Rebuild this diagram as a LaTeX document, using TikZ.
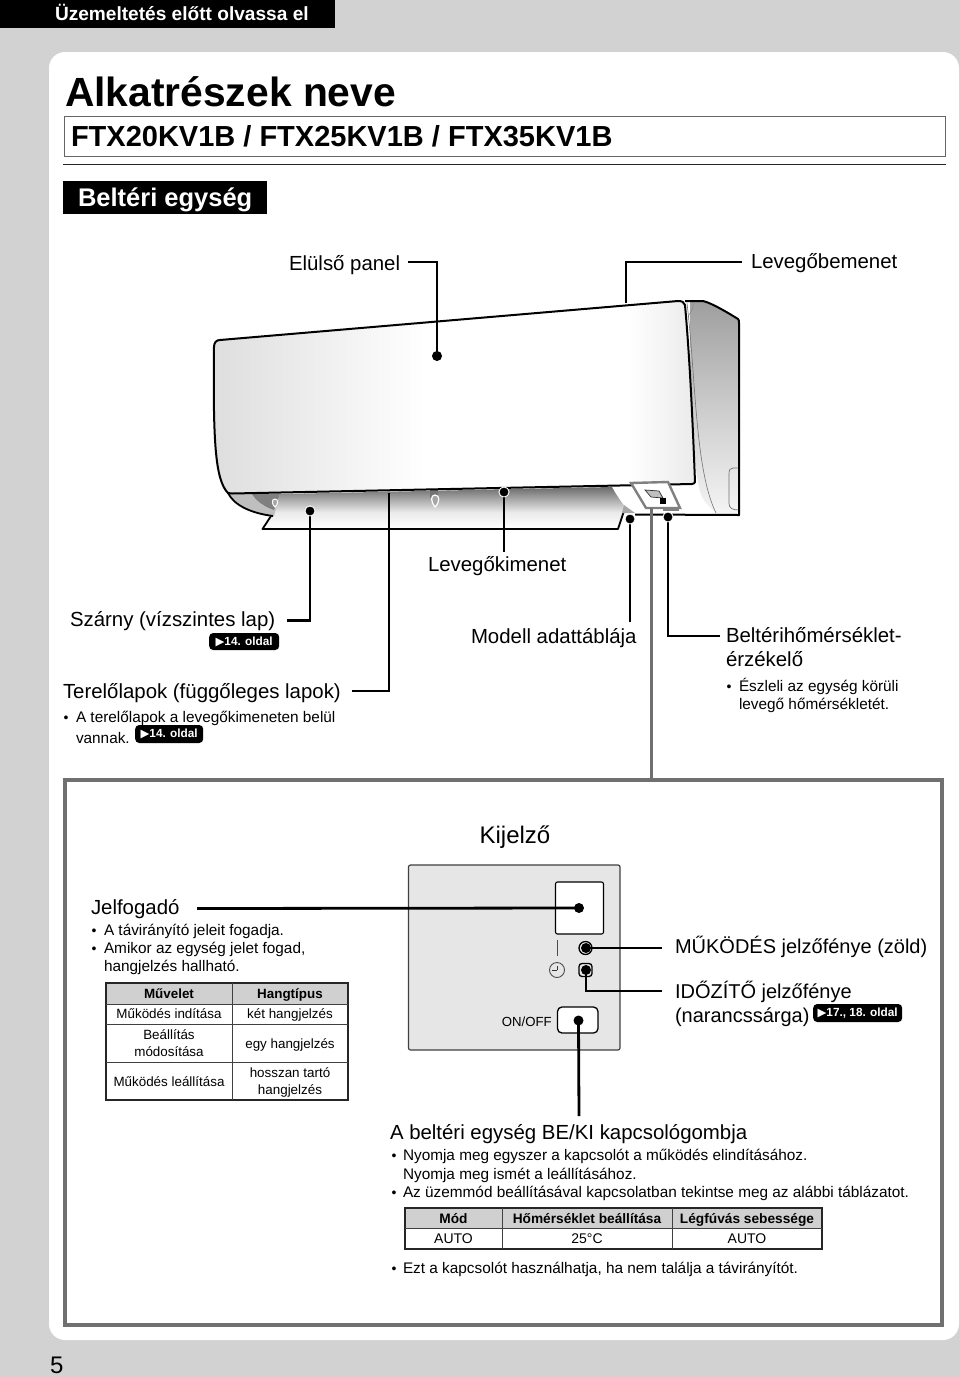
\documentclass[tikz,border=0pt]{standalone}
\usepackage{fontspec}
\setmainfont{Liberation Sans}
\newfontfamily\djv{DejaVu Sans}
\definecolor{pagebg}{HTML}{D2D2D2}
\definecolor{framegray}{HTML}{707070}
\definecolor{panelgray}{HTML}{E6E6E6}
\definecolor{headgray}{HTML}{D0D0D0}
\pgfdeclarehorizontalshading{frontpanel}{100bp}{color(0bp)=(black!13); color(25bp)=(black!13); color(47bp)=(white); color(68bp)=(white); color(75bp)=(black!8); color(100bp)=(black!8)}
\pgfdeclareverticalshading{sidepanel}{100bp}{color(0bp)=(black!4); color(25bp)=(black!4); color(50bp)=(black!20); color(75bp)=(black!38); color(100bp)=(black!38)}
\pgfdeclareverticalshading{flapshade}{100bp}{color(0bp)=(white); color(25bp)=(white); color(45bp)=(black!8); color(75bp)=(black!58); color(100bp)=(black!58)}
\newcommand{\fs}[1]{\fontsize{#1}{#1}\selectfont}
\newcommand{\fsl}[1]{\fontsize{#1}{17}\selectfont}
\newcommand{\tri}{{\djv\fontsize{11.5}{11.5}\selectfont ▶}}
\tikzset{
  x=1pt,y=-1pt,
  txt/.style={anchor=base west,inner sep=0pt,outer sep=0pt,align=left},
  big/.style={txt,font=\fs{20.4}},
  body/.style={txt,font=\fs{15.35}},
  bul/.style={anchor=base,inner sep=0pt,font=\fs{14}},
  cell/.style={anchor=base,inner sep=0pt,align=center,font=\fsl{13.4}},
  cellm/.style={anchor=center,inner sep=0pt,align=center,font=\fsl{13.4}},
  cellb/.style={cell,font=\fsl{13.4}\bfseries},
  lead/.style={draw=black,line width=2.8pt},
  dotn/.style={circle,fill=black,draw=white,line width=0.8pt,minimum size=10pt,inner sep=0pt},
  badge/.style={fill=black,text=white,rounded corners=4pt,inner sep=0pt,anchor=west,font=\fs{11.8}\bfseries},
  thin rule/.style={draw=black!75,line width=1pt},
  tab frame/.style={draw=black!85,line width=1.3pt}
}
\begin{document}
\begin{tikzpicture}
\useasboundingbox (0,0) rectangle (960,1377);
\fill[pagebg] (0,0) rectangle (960,1377);
\fill[white,rounded corners=16pt] (49,52) rectangle (959,1340);
% header
\fill[black] (0,0) rectangle (335,28);
\node[txt,text=white,font=\fs{19.1}\bfseries] (hdr) at (55,20) {Üzemeltetés előtt olvassa el};
\node[txt,font=\fs{40.8}\bfseries] (title) at (65,106) {Alkatrészek neve};
\draw[black!60,line width=1pt] (64.5,116) rectangle (945.5,156);
\node[txt,font=\fs{29}\bfseries] (models) at (71,146) {FTX20KV1B / FTX25KV1B / FTX35KV1B};
\draw[black!85,line width=1.4pt] (63,164.5) -- (946,164.5);
\fill[black] (63,181) rectangle (267,214);
\node[txt,text=white,font=\fs{25.5}\bfseries] (sec) at (78,206) {Beltéri egység};

% ---- indoor unit ----
% right side
\shade[shading=sidepanel,draw=none] (684,302) -- (703,301) .. controls (712,303) and (730,314) .. (738,319) -- (739,515) -- (712,514) .. controls (700,500) and (690,490) .. (690,300) -- cycle;
\fill[white] (612,487) -- (694,483) .. controls (697,490) and (705,505) .. (716,513) -- (635,514) -- (626,507) .. controls (620,500) and (615,493) .. (612,487) -- cycle;
\draw[black!55,line width=.6pt] (687,303) .. controls (696,380) and (695,470) .. (716,513);
\draw[black!45,line width=.6pt] (693,302) .. controls (694,306) and (692,312) .. (688,316);
\draw[black!55,line width=.7pt] (739,468) -- (733,468) .. controls (730,468) and (729,470) .. (729,474) -- (729,503) .. controls (729,508) and (732,510) .. (739,510);
% flap
\shade[shading=flapshade] (280,494) -- (270.7,517) -- (262.5,529) -- (618,529) -- (625,507) .. controls (620,500) and (615,493) .. (612,487) -- cycle;
\draw[black,line width=1.8pt,line join=round] (271,516) -- (262.5,529) -- (618,529) -- (625,508);
\fill[black!35] (624,505) -- (635,513) -- (622,513) -- cycle;
% left underside
\fill[black!25] (228,493) .. controls (234,505) and (250,513) .. (268,516) -- (274,516) -- (280,494) -- cycle;
\fill[black!50] (252,494) .. controls (256,501) and (265,507) .. (274,510) -- (280,494) -- cycle;
\draw[black,line width=1.8pt] (228,493) .. controls (234,505) and (250,513) .. (273,516);
\draw[white,line width=1pt,fill=black!35] (275,499) .. controls (279,499) and (278,505) .. (275,507) .. controls (272,505) and (271,499) .. (275,499) -- cycle;
% middle bracket
\fill[black!55] (430,490) rectangle (438,498);
\draw[white,line width=1.2pt,fill=black!35] (435,495) .. controls (440,495) and (440,502) .. (435,507) .. controls (431,502) and (430,495) .. (435,495) -- cycle;
% front panel
\shade[shading=frontpanel] (216,340) -- (682,301) -- (685,303) .. controls (690,360) and (693,430) .. (695,483) -- (228,493) .. controls (215,480) and (213,440) .. (214,347) -- cycle;
\draw[black,line width=2pt,line join=round] (220,340) -- (678,301) .. controls (682,301) and (684,302) .. (685,305) .. controls (690,360) and (693,430) .. (695,482) .. controls (695,483) and (693,484) .. (692,484) -- (232,493.5) -- (228,493) .. controls (215,480) and (213,440) .. (214,347) .. controls (214,343) and (216,340) .. (220,340) -- cycle;
\draw[black,line width=2pt,line join=round] (685,301) -- (703,301) .. controls (712,303) and (730,314) .. (738,319) .. controls (739,320) and (739,321) .. (739,323) -- (739,515) -- (635,514.5);
% display frame
\fill[white] (631,483) -- (668,482) -- (680,508) -- (646,508) -- cycle;
\draw[black!50,line width=2.4pt,line join=miter] (631,483) -- (668,482) -- (680,508) -- (646,508) -- cycle;
\fill[black!25,draw=black!80,line width=.7pt] (645,490) -- (659,491) -- (663,498) -- (651,497) -- cycle;
\fill[black] (660,498) rectangle (666,504);
\draw[black!50,line width=1.5pt] (663,510) -- (679,510);

% dots
\node[dotn] (dFront) at (437,356) {};
\node[dotn] (dFlap) at (310,511) {};
\node[dotn] (dModel) at (504,492) {};
\node[dotn] (dPlate) at (630,519) {};
\node[dotn] (dSensor) at (668,517) {};
\coordinate (cLouver) at (389,493);
\coordinate (cInlet) at (626,303);
\coordinate (cDisp) at (651,508);

% labels
\node[big] (lFront) at (289,270) {Elülső panel};
\node[big] (lInlet) at (751,268) {Levegőbemenet};
\node[big] (lOutlet) at (428,571) {Levegőkimenet};
\node[big] (lFlap) at (70,626) {Szárny (vízszintes lap)};
\node[big] (lLouver) at (63,698) {Terelőlapok (függőleges lapok)};
\node[big] (lPlate) at (471,643) {Modell adattáblája};
\node[big] (lSensor) at (726,642) {Beltérihőmérséklet-};
\node[big] (lSensorB) at (726,666) {érzékelő};
\node[badge,minimum width=70pt,minimum height=17pt] (bFlap) at (209,641.5) {\tri 14. oldal};
\node[bul] (bu1) at (66,722) {•};
\node[body] (t1) at (76,722) {A terelőlapok a levegőkimeneten belül};
\node[body] (t2) at (76,743) {vannak.};
\node[badge,minimum width=68pt,minimum height=18pt] (bLouver) at (135,734) {\tri 14. oldal};
\node[bul] (bu2) at (729,691) {•};
\node[body] (t3) at (739,691) {Észleli az egység körüli};
\node[body] (t4) at (739,709) {levegő hőmérsékletét.};

% leaders
\coordinate (aFront) at (408,262);
\coordinate (aInlet) at (742,262);
\coordinate (aFlap) at (287,620.5);
\coordinate (aLouver) at (352,691);
\coordinate (aModel) at (504,552);
\coordinate (aPlate) at (630,622);
\coordinate (aSensor) at (720,636);
\draw[lead] (aFront) -| (dFront.center);
\draw[lead] (aInlet) -| (cInlet);
\draw[lead] (aFlap) -| (dFlap.center);
\draw[lead] (aLouver) -| (cLouver);
\draw[lead] (dModel.center) -- (aModel);
\draw[lead] (dPlate.center) -- (aPlate);
\draw[lead] (aSensor) -| (dSensor.center);
\node[dotn,draw=none] at (dFront) {};
\node[dotn] at (dFlap) {};
\node[dotn] at (dModel) {};
\node[dotn] at (dPlate) {};
\node[dotn] at (dSensor) {};

% display box
\coordinate (frameTop) at (651,780);
\draw[framegray,line width=3pt] (cDisp) -- (frameTop);
\draw[framegray,line width=3.5pt] (65,780) rectangle (942,1325);
\node[anchor=base,inner sep=0pt,font=\fs{24}] (kij) at (515,843) {Kijelző};
\node[big] (lRecv) at (91,914) {Jelfogadó};
\node[bul] at (94,935) {•};
\node[body] (t5) at (104,935) {A távirányító jeleit fogadja.};
\node[bul] at (94,953) {•};
\node[body] (t6) at (104,953) {Amikor az egység jelet fogad,};
\node[body] (t7) at (104,971) {hangjelzés hallható.};

% table 1
\fill[headgray] (106,983) rectangle (348,1004);
\draw[tab frame] (106,983) rectangle (348,1100);
\draw[thin rule] (232,983) -- (232,1100);
\draw[thin rule] (106,1004) -- (348,1004);
\draw[thin rule] (106,1024.5) -- (348,1024.5);
\draw[thin rule] (106,1062.5) -- (348,1062.5);
\node[cellb] (h1) at (169,998) {Művelet};
\node[cellb] (h2) at (290,998) {Hangtípus};
\node[cell] (c11) at (169,1018.5) {Működés indítása};
\node[cell] (c12) at (290,1018.5) {két hangjelzés};
\node[cellm] (c21) at (169,1043.5) {Beállítás\\módosítása};
\node[cell] (c22) at (290,1048) {egy hangjelzés};
\node[cell] (c31) at (169,1086) {Működés leállítása};
\node[cellm] (c32) at (290,1082) {hosszan tartó\\hangjelzés};

% control panel
\draw[black!75,line width=1.2pt,fill=panelgray,rounded corners=2pt] (408.5,865) rectangle (620,1050);
\draw[black,line width=1.1pt,fill=white,rounded corners=2pt] (555.5,882) rectangle (603.5,934);
\draw[black!70,line width=.9pt] (557,940) -- (557,956);
\node[circle,draw=black!70,line width=.9pt,minimum size=15pt,inner sep=0pt] (clock) at (557,970) {};
\draw[black!80,line width=.9pt] (clock.center) -- ++(-5,0);
\draw[black!80,line width=.9pt] (clock.center) -- ++(0,-4.5);
\node[circle,draw=black,line width=1.3pt,minimum size=13pt,inner sep=0pt] (led1) at (585.5,948) {};
\node[circle,fill=black,minimum size=10pt,inner sep=0pt] (led1c) at (586,948) {};
\node[rectangle,rounded corners=3pt,draw=black,line width=1.3pt,minimum size=13pt,inner sep=0pt] (led2) at (585.5,970) {};
\node[circle,fill=black,minimum size=10pt,inner sep=0pt] (led2c) at (586,970) {};
\draw[black,line width=1.3pt,fill=white,rounded corners=4.5pt] (557.5,1007) rectangle (598,1033);
\node[dotn,draw=none] (dBtn) at (578.5,1020.5) {};
\node[anchor=base east,inner sep=0pt,font=\fs{13.2}] (onoff) at (552,1026) {ON/OFF};
\node[dotn,draw=none] (dRecv) at (579,908) {};
\coordinate (aRecv) at (197,908.5);
\coordinate (aLed1) at (662,948);
\coordinate (aLed2) at (662,991);
\coordinate (aBtn) at (579,1116);
\draw[lead] (aRecv) -- (dRecv.center);
\draw[lead] (led1c.center) -- (aLed1);
\draw[lead] (led2c.center) |- (aLed2);
\draw[lead] (dBtn.center) -- (aBtn);

\node[txt,font=\fs{20}] (lOp) at (675,953) {MŰKÖDÉS jelzőfénye (zöld)};
\node[txt,font=\fs{20}] (lTm) at (675,998) {IDŐZÍTŐ jelzőfénye};
\node[txt,font=\fs{20}] (lTmB) at (675,1022) {(narancssárga)};
\node[badge,minimum width=89pt,minimum height=18pt] (bTm) at (813,1013) {\tri 17., 18. oldal};

% on/off text
\node[big] (lBtn) at (390,1139) {A beltéri egység BE/KI kapcsológombja};
\node[bul] at (394,1160) {•};
\node[body] (t8) at (403,1160) {Nyomja meg egyszer a kapcsolót a működés elindításához.};
\node[body] (t9) at (403,1179) {Nyomja meg ismét a leállításához.};
\node[bul] at (394,1197) {•};
\node[body] (t10) at (403,1197) {Az üzemmód beállításával kapcsolatban tekintse meg az alábbi táblázatot.};
\fill[headgray] (405,1208) rectangle (822,1228.5);
\draw[tab frame] (405,1208) rectangle (822,1249);
\draw[thin rule] (405,1228.5) -- (822,1228.5);
\draw[thin rule] (502,1208) -- (502,1249);
\draw[thin rule] (672,1208) -- (672,1249);
\node[cell,font=\fs{13.7}\bfseries] (m1) at (453.5,1223) {Mód};
\node[cell,font=\fs{13.7}\bfseries] (m2) at (587,1223) {Hőmérséklet beállítása};
\node[cell,font=\fs{13.7}\bfseries] (m3) at (747,1223) {Légfúvás sebessége};
\node[cell,font=\fs{14}] (v1) at (453.5,1243) {AUTO};
\node[cell,font=\fs{14}] (v2) at (587,1243) {25°C};
\node[cell,font=\fs{14}] (v3) at (747,1243) {AUTO};
\node[bul] at (394,1273) {•};
\node[body] (t11) at (403,1273) {Ezt a kapcsolót használhatja, ha nem találja a távirányítót.};

\node[txt,font=\fs{24}] (pg) at (50,1373) {5};
\end{tikzpicture}
\end{document}
